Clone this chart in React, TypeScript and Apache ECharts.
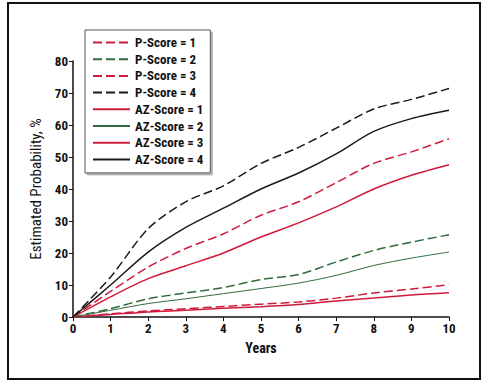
import React, { useEffect, useRef } from "react";
import * as echarts from "echarts";

const years = [0, 1, 2, 3, 4, 5, 6, 7, 8, 9, 10];
const seriesNames = [
  "P-Score = 1",
  "P-Score = 2",
  "P-Score = 3",
  "P-Score = 4",
  "AZ-Score = 1",
  "AZ-Score = 2",
  "AZ-Score = 3",
  "AZ-Score = 4",
];
const pScore1 = [0, 1.0, 1.9, 2.6, 3.3, 4.0, 4.7, 5.9, 7.5, 8.75, 10.1];
const pScore2 = [0, 2.6, 5.7, 7.5, 9.2, 11.7, 13.3, 17.2, 20.8, 23.4, 25.7];
const pScore3 = [0, 8.0, 15.6, 21.4, 26.0, 31.8, 36.0, 42.0, 48.0, 51.6, 55.7];
const pScore4 = [0, 12.5, 27.6, 36.0, 41.0, 48.0, 53.0, 59.0, 65.0, 68.0, 71.4];
const azScore1 = [0, 0.8, 1.6, 2.1, 2.7, 3.2, 3.9, 5.0, 5.9, 6.9, 7.6];
const azScore2 = [0, 2.1, 4.2, 5.7, 7.3, 8.9, 10.6, 13.0, 16.1, 18.4, 20.3];
const azScore3 = [0, 6.3, 12.0, 16.0, 20.0, 25.0, 29.4, 34.4, 40.0, 44.3, 47.6];
const azScore4 = [0, 10.0, 20.3, 28.0, 34.0, 40.0, 45.0, 51.0, 58.0, 62.0, 64.6];
const allValues = [pScore1, pScore2, pScore3, pScore4, azScore1, azScore2, azScore3, azScore4];

const RED = "#d01a3c";
const GREEN = "#2f6b3c";
const BLACK = "#1a1a1a";
const colors = [RED, GREEN, RED, BLACK, RED, GREEN, RED, BLACK];
const FONT = "'Roboto Condensed', 'Liberation Sans', sans-serif";

export default function App() {
  const ref = useRef<HTMLDivElement>(null);
  useEffect(() => {
    if (!ref.current) return;
    const chart = echarts.init(ref.current, undefined, { renderer: "svg" });
    const series = seriesNames.map((name, i) => ({
      name,
      type: "line",
      smooth: 0.3,
      symbol: "none",
      data: years.map((y, j) => [y, allValues[i][j]]),
      lineStyle: {
        color: colors[i],
        width: i === 5 ? 1 : 1.5,
        type: i < 4 ? [9, 4] : "solid",
      },
      itemStyle: { color: colors[i] },
    }));
    chart.setOption({
      animation: false,
      backgroundColor: "#ffffff",
      textStyle: { fontFamily: FONT },
      graphic: [
        {
          type: "rect",
          shape: { x: 8, y: 3, width: 472, height: 376 },
          style: { fill: "none", stroke: "#111", lineWidth: 2 },
          silent: true,
          z: -1,
        },
      ],
      legend: {
        orient: "vertical",
        left: 85,
        top: 30,
        itemWidth: 37,
        itemHeight: 10,
        itemGap: 3.7,
        padding: [6, 7, 7, 7],
        borderColor: "#555",
        borderWidth: 1,
        backgroundColor: "#fff",
        shadowColor: "rgba(0,0,0,0.3)",
        shadowOffsetX: 2,
        shadowOffsetY: 2,
        shadowBlur: 1,
        itemStyle: { opacity: 0, borderWidth: 0 },
        textStyle: { fontFamily: FONT, fontSize: 13, fontWeight: "bold", color: "#111", padding: [0, 0, 0, 0] },
        data: seriesNames,
      },
      grid: { left: 73, right: 39, top: 61, bottom: 66, containLabel: false },
      xAxis: {
        type: "value",
        min: 0,
        max: 10,
        interval: 1,
        name: "Years",
        nameLocation: "middle",
        nameGap: 24,
        nameTextStyle: { fontFamily: FONT, fontSize: 14, fontWeight: "bold", color: "#111" },
        axisLine: { lineStyle: { color: "#111", width: 1.5 } },
        axisTick: { show: true, length: 4, lineStyle: { color: "#111" } },
        axisLabel: { fontFamily: FONT, fontSize: 13, fontWeight: "bold", color: "#111", margin: 5 },
        splitLine: { show: false },
      },
      yAxis: {
        type: "value",
        min: 0,
        max: 80,
        interval: 10,
        name: "Estimated Probability, %",
        nameLocation: "middle",
        nameGap: 29,
        nameTextStyle: { fontFamily: FONT, fontSize: 15, color: "#111" },
        axisLine: { show: true, lineStyle: { color: "#111", width: 1.5 } },
        axisTick: { show: true, length: 4, lineStyle: { color: "#111" } },
        axisLabel: { fontFamily: FONT, fontSize: 13, fontWeight: "bold", color: "#111", margin: 5 },
        splitLine: { show: false },
      },
      series,
    });
    return () => chart.dispose();
  }, []);
  return (
    <div
      ref={ref}
      style={{ position: "fixed", left: 0, top: 0, width: 488, height: 383, background: "#fff" }}
    />
  );
}
